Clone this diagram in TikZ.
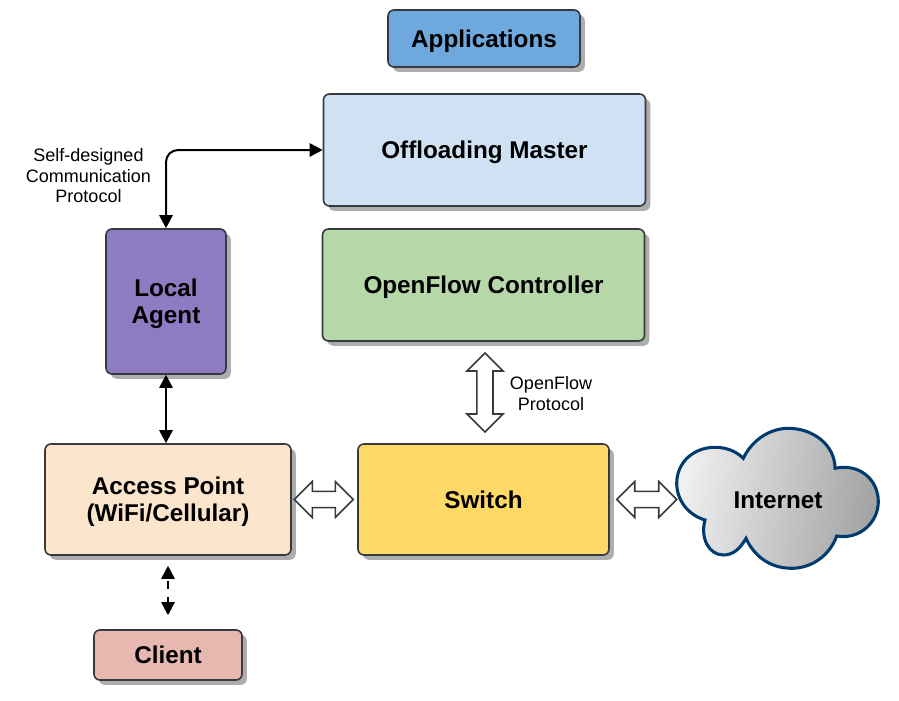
\documentclass[tikz,border=0pt]{standalone}
\usepackage{fontspec}
\setmainfont{Liberation Sans}
\usetikzlibrary{
        arrows.meta,
        shadows,
        shapes.arrows
    }
\definecolor{edgegray}{HTML}{36393D}
\definecolor{appblue}{HTML}{6FA8DC}
\definecolor{masterblue}{HTML}{CFE2F3}
\definecolor{ctrlgreen}{HTML}{B6D7A8}
\definecolor{agentpurple}{HTML}{8E7CC3}
\definecolor{apcream}{HTML}{FCE5CD}
\definecolor{switchyellow}{HTML}{FFD966}
\definecolor{clientpink}{HTML}{E6B8AF}
\definecolor{cloudblue}{HTML}{003B70}

\begin{document}
\begin{tikzpicture}[
x=0.75pt, y=-0.75pt,
baseshape/.style={rectangle, rounded corners=4.5pt, draw=edgegray, line width=1.2pt, align=center, text depth=0pt,
font=\fontsize{18.2}{20.25}\bfseries\selectfont, drop shadow={fill=black!32, opacity=1, shadow xshift=3.6pt, shadow yshift=-3.6pt}},
appbox/.style={baseshape, fill=appblue, minimum width=192*0.75pt, minimum height=57*0.75pt},
masterbox/.style={baseshape, fill=masterblue, minimum width=322*0.75pt, minimum height=112*0.75pt},
ctrlbox/.style={baseshape, fill=ctrlgreen, minimum width=322*0.75pt, minimum height=112*0.75pt},
agentbox/.style={baseshape, fill=agentpurple, minimum width=120*0.75pt, minimum height=145*0.75pt},
apbox/.style={baseshape, fill=apcream, minimum width=246*0.75pt, minimum height=111*0.75pt},
switchbox/.style={baseshape, fill=switchyellow, minimum width=251*0.75pt, minimum height=111*0.75pt},
clientbox/.style={baseshape, fill=clientpink, minimum width=148*0.75pt, minimum height=50*0.75pt},
cloudshape/.style={draw=cloudblue, line width=2.3pt, left color=black!6, right color=black!36, shading angle=80},
arrow/.style={line width=1.5pt, {Triangle[length=9.8pt,width=10pt]}-{Triangle[length=9.8pt,width=10pt]}},
fatarrow/.style={double arrow, draw=edgegray, line width=1.2pt, fill=white, inner sep=5.4pt,
double arrow head extend=7.4pt, double arrow tip angle=90},
note/.style={align=center, font=\fontsize{13.5}{15.4}\selectfont},
]
\useasboundingbox (0,0) rectangle (899,700);

\node (apps) [appbox] at (484,38.5) {Applications};
\node (master) [masterbox] at (484.5,150) {Offloading Master};
\node (ctrl) [ctrlbox] at (483.5,285) {OpenFlow Controller};
\node (agent) [agentbox] at (166,301.5) {Local\\Agent};
\node (ap) [apbox] at (168,499.5) {Access Point\\(WiFi/Cellular)};
\node (switch) [switchbox] at (483.5,499.5) {Switch};
\node (client) [clientbox] at (168,655) {Client};

% cloud outline
\path[cloudshape] (743.3,458.3) .. controls (752,440) and (770,428.3) .. (788.3,428.3)
    .. controls (813,428.3) and (835,445) .. (835,468.3)
    .. controls (860,463) and (878.3,480) .. (878.3,501.7)
    .. controls (878.3,522) and (860,540) .. (836.7,536)
    .. controls (830,555) and (812,568.3) .. (791.7,568.3)
    .. controls (770,568.3) and (754,556) .. (746,538.3)
    .. controls (740,549) and (733,555) .. (723.3,555)
    .. controls (709,555) and (700,538) .. (705,520)
    .. controls (688,515) and (676.7,500) .. (676.7,483.3)
    .. controls (676.7,462) and (694,447.3) .. (715,447.3)
    .. controls (726,447.3) and (736,451) .. (743.3,458.3) -- cycle;
\node (internet) [text depth=0pt, font=\fontsize{18.2}{20.25}\bfseries\selectfont] at (778,500) {Internet};
\coordinate (cloudedge) at (677,499.5);

\node (selfnote) [note] at (88.5,176) {Self-designed\\Communication\\Protocol};
\node (ofnote) [note] at (551,393.5) {OpenFlow\\Protocol};

\draw[arrow, rounded corners=9pt] (agent.north) |- (master.west);
\draw[arrow] (agent.south) -- (agent.south |- ap.north);
\draw[arrow, dash pattern=on 6pt off 6pt, dash phase=9.75pt, shorten <=7.5pt, shorten >=10.5pt] (ap.south) -- (client.north);

\path (ctrl.south) -- node[fatarrow, rotate=90, yshift=-1.1pt, minimum height=79*0.75pt, minimum width=36*0.75pt] (ofarrow) {} (switch.north);
\path (ap.east) -- node[fatarrow, xshift=-0.5pt, minimum height=59*0.75pt, minimum width=36*0.75pt] (aparrow) {} (switch.west);
\path (switch.east) -- node[pos=.55, fatarrow, minimum height=60*0.75pt, minimum width=36*0.75pt] (netarrow) {} (cloudedge);

\end{tikzpicture}
\end{document}
